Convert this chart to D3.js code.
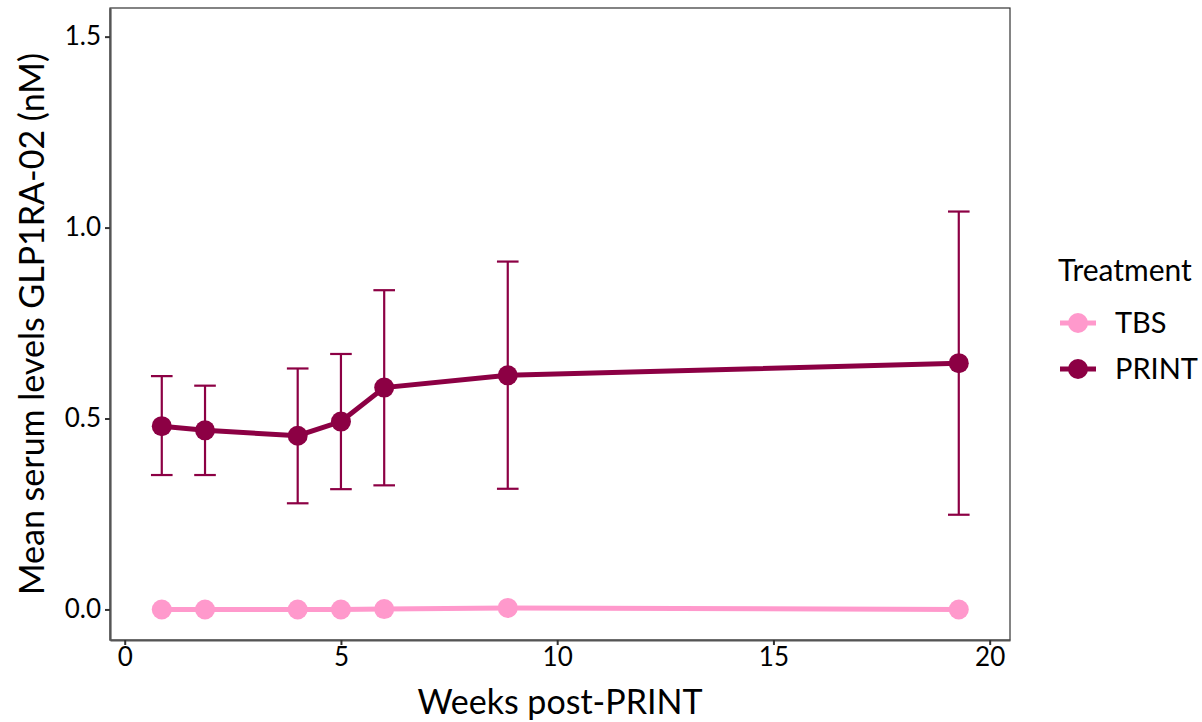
<!DOCTYPE html>
<html>
<head>
<meta charset="UTF-8">
<script src="https://d3js.org/d3.v7.min.js"></script>
<style>
  body { margin: 0; background: white; }
  text { font-family: "Source Sans Pro", Lato, "Noto Sans", sans-serif; fill: #000; }
</style>
</head>
<body>
<div id="plot"></div>
<script>
const weeks = [6/7, 13/7, 4, 5, 6, 62/7, 135/7];
const printMean = [0.480, 0.469, 0.455, 0.492, 0.581, 0.613, 0.645];
const printLow = [0.352, 0.352, 0.278, 0.315, 0.325, 0.316, 0.248];
const printHigh = [0.611, 0.586, 0.631, 0.669, 0.836, 0.911, 1.042];
const tbsMean = [0.000, 0.000, 0.000, 0.000, 0.001, 0.004, 0.000];
const xTicks = [0, 5, 10, 15, 20];
const yTicks = [0.0, 0.5, 1.0, 1.5];
const seriesNames = ["TBS", "PRINT"];
const colors = { TBS: "#ff99cc", PRINT: "#8c0044" };

const width = 1202, height = 722;
const margin = { top: 8, right: 192, bottom: 82, left: 110 };

const svg = d3.select("#plot").append("svg")
  .attr("width", width).attr("height", height);

const x = d3.scaleLinear().domain([-0.34, 20.47])
  .range([margin.left, width - margin.right]);
const y = d3.scaleLinear().domain([-0.08, 1.575])
  .range([height - margin.bottom, margin.top]);

// panel border
svg.append("rect")
  .attr("x", margin.left).attr("y", margin.top)
  .attr("width", width - margin.right - margin.left)
  .attr("height", height - margin.bottom - margin.top)
  .attr("fill", "none").attr("stroke", "#333").attr("stroke-width", 1.2);

// axes
const xAxis = svg.append("g")
  .attr("transform", `translate(0,${height - margin.bottom})`)
  .call(d3.axisBottom(x).tickValues(xTicks).tickSize(5).tickSizeOuter(0).tickPadding(3).tickFormat(d3.format("d")));
const yAxis = svg.append("g")
  .attr("transform", `translate(${margin.left},0)`)
  .call(d3.axisLeft(y).tickValues(yTicks).tickSize(5).tickSizeOuter(0).tickPadding(4).tickFormat(d3.format(".1f")));
[xAxis, yAxis].forEach(g => {
  g.select(".domain").attr("stroke", "#555").attr("stroke-width", 2.2);
  g.selectAll(".tick line").attr("stroke", "#333").attr("stroke-width", 2);
  g.selectAll(".tick text").attr("font-size", "26px").attr("fill", "#1a1a1a");
});

// axis titles
svg.append("text")
  .attr("x", (margin.left + width - margin.right) / 2)
  .attr("y", height - 8)
  .attr("text-anchor", "middle")
  .attr("font-size", "34px")
  .text("Weeks post-PRINT");
svg.append("text")
  .attr("transform", `translate(44,${(margin.top + height - margin.bottom) / 2}) rotate(-90)`)
  .attr("text-anchor", "middle")
  .attr("font-size", "34px")
  .text("Mean serum levels GLP1RA-02 (nM)");

// error bars (PRINT)
const capW = x(0.25) - x(0);
const eb = svg.append("g").attr("stroke", colors.PRINT).attr("stroke-width", 2.2);
weeks.forEach((w, i) => {
  eb.append("line").attr("x1", x(w)).attr("x2", x(w))
    .attr("y1", y(printLow[i])).attr("y2", y(printHigh[i]));
  [printLow[i], printHigh[i]].forEach(v => {
    eb.append("line").attr("x1", x(w) - capW).attr("x2", x(w) + capW)
      .attr("y1", y(v)).attr("y2", y(v));
  });
});

const line = d3.line().x(d => x(d[0])).y(d => y(d[1]));
const series = [
  { name: "TBS", values: tbsMean },
  { name: "PRINT", values: printMean }
];
series.forEach(s => {
  const pts = weeks.map((w, i) => [w, s.values[i]]);
  svg.append("path").datum(pts)
    .attr("d", line).attr("fill", "none")
    .attr("stroke", colors[s.name]).attr("stroke-width", 5);
  svg.selectAll(null).data(pts).enter().append("circle")
    .attr("cx", d => x(d[0])).attr("cy", d => y(d[1]))
    .attr("r", 10).attr("fill", colors[s.name]);
});

// legend
const lg = svg.append("g").attr("transform", "translate(1058,0)");
lg.append("text").attr("x", 0).attr("y", 281).attr("font-size", "30px").text("Treatment");
seriesNames.forEach((n, i) => {
  const cy = 323 + i * 46;
  lg.append("line").attr("x1", 2).attr("x2", 38).attr("y1", cy).attr("y2", cy)
    .attr("stroke", colors[n]).attr("stroke-width", 5);
  lg.append("circle").attr("cx", 20).attr("cy", cy).attr("r", 10).attr("fill", colors[n]);
  lg.append("text").attr("x", 57).attr("y", cy + 10).attr("font-size", "29px").text(n);
});
</script>
</body>
</html>
